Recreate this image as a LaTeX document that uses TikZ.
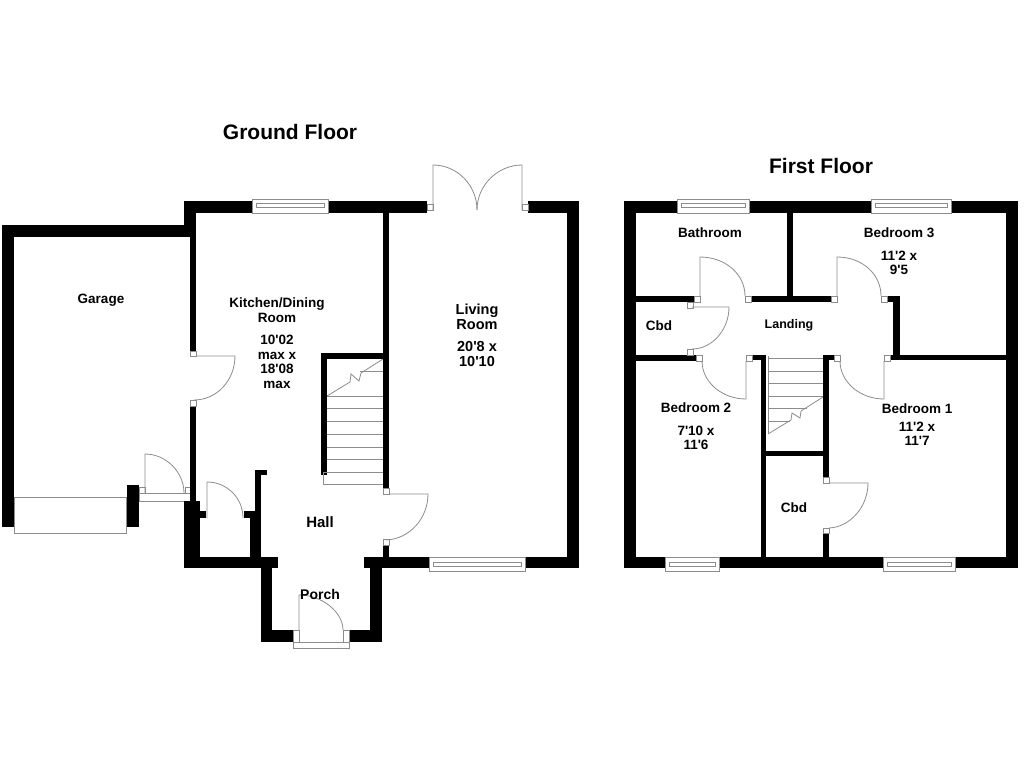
\documentclass[tikz,border=0pt]{standalone}
\usepackage{fontspec}
\newfontfamily\planfont{Liberation Sans}
\usepackage{tikz}
\tikzset{wall/.style={fill=black},
  fixture/.style={draw=black!45,line width=0.8},
  roomlabel/.style={font=\planfont\fontsize{#1}{14.5}\selectfont\bfseries,align=center,inner sep=0},
  roomlabel/.default=13.5,
  floorlabel/.style={font=\planfont\fontsize{21}{24}\selectfont\bfseries,inner sep=0}}

\begin{document}
\begin{tikzpicture}[x=1pt,y=-1pt]
\useasboundingbox (0,0) rectangle (1024,768);
%garage
\fill[wall] (2,225) rectangle (190,237);
\fill[wall] (2,225) rectangle (14,527);
\fill[wall] (127,485) rectangle (139,527);
\fill[wall] (125.5,515) rectangle (127,527);
\draw[fixture] (14,497) rectangle (126,533);
\draw[fixture] (139,493) rectangle (190,501);
\draw[fixture] (139,487) rectangle (145,493);
\draw[fixture] (185,487) rectangle (190,493);
\draw[fixture] (145,493)--(145,454) .. controls (166,454) and (184,472) .. (184,493);
%kitchen walls
\fill[wall] (184,201) rectangle (252,213);
\fill[wall] (328,201) rectangle (427,213);
\fill[wall] (184,201) rectangle (196,225);
\fill[wall] (190,225) rectangle (196,351);
\fill[wall] (190,406) rectangle (196,501);
\fill[wall] (184,501) rectangle (200,568);
\fill[wall] (184,557) rectangle (278,568);
\fill[wall] (197,511) rectangle (206,518);
\fill[wall] (244,511) rectangle (255,518);
\fill[wall] (250,511) rectangle (261,557);
\fill[wall] (255,470) rectangle (261,513);
\fill[wall] (255,470) rectangle (267,475);
\draw[fixture] (207,518)--(207,482) .. controls (227,482) and (243,498) .. (243,518);
\draw[fixture] (190,351) rectangle (196,356);
\draw[fixture] (190,400) rectangle (196,406);
\draw[fixture] (196,356)--(235,356) .. controls (235,380) and (217,400) .. (194,400);
%porch
\fill[wall] (261,557) rectangle (272,642);
\fill[wall] (261,630) rectangle (293,642);
\fill[wall] (349,630) rectangle (382,642);
\fill[wall] (370,557) rectangle (382,642);
\draw[fixture] (293,642) rectangle (349,648);
\draw[fixture] (293,630) rectangle (299,642);
\draw[fixture] (343,630) rectangle (349,642);
\draw[fixture] (299,630)--(299,595) .. controls (322,595) and (343,612) .. (343,630);
%stairs down
\fill[wall] (321,353) rectangle (383,359);
\fill[wall] (321,353) rectangle (327,475);
\foreach \y in {396,408.5,421,434,447,459,472}
  \draw[fixture] (327,\y)--(383,\y);
\draw[fixture] (323,472) rectangle (383,484);
\draw[fixture] (360,371)--(383,371);
\draw[fixture] (327,396)--(350,382)--(351,374)--(359,381)--(361,373)--(383,359);
%living room
\fill[wall] (383,213) rectangle (389,488);
\fill[wall] (383,545) rectangle (389,557);
\fill[wall] (364,557) rectangle (429,568);
\fill[wall] (525,557) rectangle (579,568);
\fill[wall] (528,201) rectangle (579,213);
\fill[wall] (567,201) rectangle (579,568);
\draw[fixture] (383,488) rectangle (389,494);
\draw[fixture] (383,539) rectangle (389,545);
\draw[fixture] (389,494)--(428,494) .. controls (428,518) and (410,539) .. (386,540);
\draw[fixture] (427,204) rectangle (433,210);
\draw[fixture] (522,204) rectangle (528,210);
\draw[fixture] (433,210)--(433,165) .. controls (457,165) and (477,185) .. (477,210);
\draw[fixture] (522,210)--(522,165) .. controls (498,165) and (477,185) .. (477,210);
%ground floor windows
\draw[fixture] (252,199) rectangle (328,213);
\draw[fixture] (256,203) rectangle (324,207);
\draw[fixture] (429,557) rectangle (525,571);
\draw[fixture] (433,562) rectangle (521,566);
%first floor outline
\fill[wall] (624,201) rectangle (677,213);
\fill[wall] (749,201) rectangle (871,213);
\fill[wall] (951,201) rectangle (1018,213);
\fill[wall] (624,201) rectangle (636,568);
\fill[wall] (1006,201) rectangle (1018,568);
\fill[wall] (624,557) rectangle (665,568);
\fill[wall] (719,557) rectangle (883,568);
\fill[wall] (955,557) rectangle (1018,568);
%inner walls
\fill[wall] (787,213) rectangle (793,296);
\fill[wall] (636,296) rectangle (694,302);
\fill[wall] (751,296) rectangle (831,302);
\fill[wall] (887,296) rectangle (900,302);
\fill[wall] (893,296) rectangle (900,360);
\fill[wall] (890,354.5) rectangle (1006,360);
\fill[wall] (636,355) rectangle (696,361);
\fill[wall] (752,355) rectangle (766,360);
\fill[wall] (761,355) rectangle (766,557);
\fill[wall] (824,355) rectangle (834,360);
\fill[wall] (823,355) rectangle (829,477);
\fill[wall] (761,451) rectangle (823,456);
\fill[wall] (823,533) rectangle (829,557);
%first floor doors
\draw[fixture] (694,296) rectangle (700,302);
\draw[fixture] (745,296) rectangle (751,302);
\draw[fixture] (700,296)--(700,257) .. controls (725,257) and (745,274) .. (745,296);
\draw[fixture] (831,296) rectangle (837,302);
\draw[fixture] (881,296) rectangle (887,302);
\draw[fixture] (837,296)--(837,257) .. controls (862,257) and (881,274) .. (881,296);
\draw[fixture] (687,302) rectangle (693,308);
\draw[fixture] (687,349) rectangle (693,355);
\draw[fixture] (692,307)--(729,307) .. controls (729,330) and (712,349) .. (692,349);
\draw[fixture] (696,355) rectangle (702,361);
\draw[fixture] (746,355) rectangle (752,361);
\draw[fixture] (702,361) .. controls (702,382) and (722,399) .. (746,399)--(746,361);
\draw[fixture] (834,355) rectangle (840,361);
\draw[fixture] (884,355) rectangle (890,361);
\draw[fixture] (840,361) .. controls (840,382) and (860,399) .. (884,399)--(884,361);
\draw[fixture] (823,477) rectangle (829,483);
\draw[fixture] (823,528) rectangle (829,533);
\draw[fixture] (829,483)--(868,483) .. controls (868,507) and (850,527) .. (829,528);
%stairs up
\foreach \y in {358,371,383,396}
  \draw[fixture] (768,\y)--(823,\y);
\draw[fixture] (768,408)--(807,408);
\draw[fixture] (768,421)--(790,421);
\draw[fixture] (768,356)--(768,434);
\draw[fixture] (768,434)--(791,420)--(792,413)--(800,418)--(801,411)--(823,397);
%first floor windows
\draw[fixture] (677,199) rectangle (749,213);
\draw[fixture] (681,203) rectangle (745,207);
\draw[fixture] (871,199) rectangle (951,213);
\draw[fixture] (875,203) rectangle (947,207);
\draw[fixture] (665,557) rectangle (719,571);
\draw[fixture] (669,562) rectangle (715,566);
\draw[fixture] (883,557) rectangle (955,571);
\draw[fixture] (887,562) rectangle (951,566);
%labels
\node[floorlabel] (groundfloor) at (290,132) {Ground Floor};
\node[floorlabel] (firstfloor) at (821,166) {First Floor};
\node[roomlabel] (garage) at (101,300) {Garage};
\node[roomlabel] (kitchen) at (277,343) {Kitchen/Dining\\Room\\[8pt]10'02\\max x\\18'08\\max};
\node[roomlabel=14.5] (living) at (477,335.5) {Living\\Room\\[8pt]20'8 x\\10'10};
\node[roomlabel=15] (hall) at (320,522) {Hall};
\node[roomlabel=14] (porch) at (320,594) {Porch};
\node[roomlabel] (bathroom) at (710,233) {Bathroom};
\node[roomlabel] (bedthree) at (899,251.5) {Bedroom 3\\[8pt]11'2 x\\9'5};
\node[roomlabel] (cbdone) at (659,326) {Cbd};
\node[roomlabel=12.5] (landing) at (789,325) {Landing};
\node[roomlabel] (bedtwo) at (696,426.5) {Bedroom 2\\[8pt]7'10 x\\11'6};
\node[roomlabel] (bedone) at (917,424.5) {Bedroom 1\\[3.5pt]11'2 x\\11'7};
\node[roomlabel] (cbdtwo) at (794,508) {Cbd};
\end{tikzpicture}
\end{document}
